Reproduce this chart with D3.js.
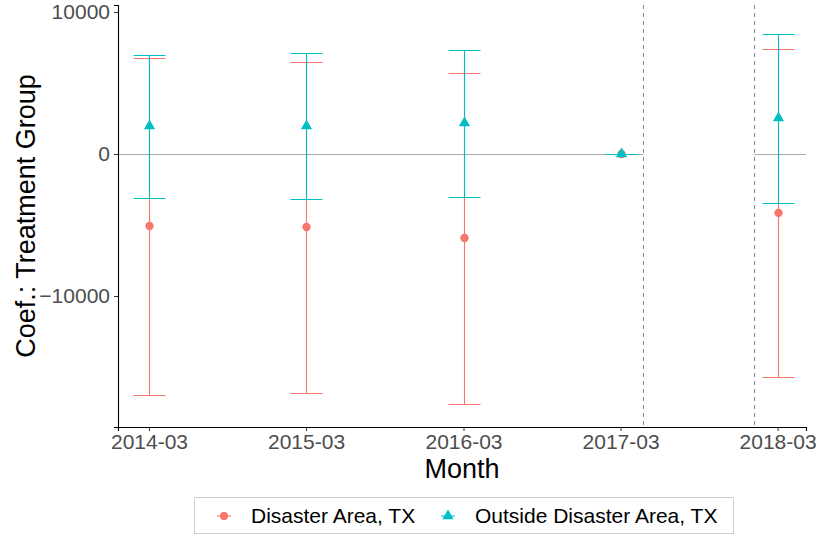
<!DOCTYPE html>
<html>
<head>
<meta charset="utf-8">
<script src="https://cdn.jsdelivr.net/npm/d3@7"></script>
<style>
  body { margin: 0; background: #fff; }
  svg { font-family: "Liberation Sans", Arial, sans-serif; }
</style>
</head>
<body>
<svg id="chart" width="820" height="537"></svg>
<script>
// data
var months = ['2014-03', '2015-03', '2016-03', '2017-03', '2018-03'];
var groups = ['Disaster Area, TX', 'Outside Disaster Area, TX'];
var disasterEst = [-5070, -5140, -5920, 0, -4150];
var disasterLow = [-16970, -16830, -17600, 0, -15700];
var disasterHigh = [6780, 6480, 5700, 0, 7390];
var outsideEst = [1970, 1970, 2180, 0, 2530];
var outsideLow = [-3080, -3170, -3030, 0, -3430];
var outsideHigh = [6970, 7110, 7320, 0, 8450];
var yTicks = [-10000, 0, 10000];
var eventLines = ['2017-04-23', '2018-01-05'];

var colors = ['#F8766D', '#00BFC4'];
var parse = d3.timeParse('%Y-%m');
var parseDay = d3.timeParse('%Y-%m-%d');

var svg = d3.select('#chart');
var margin = {left: 118, right: 14, top: 5, bottom: 110};
var width = 820 - margin.left - margin.right;
var height = 537 - margin.top - margin.bottom;

var g = svg.append('g')
    .attr('transform', 'translate(' + margin.left + ',' + margin.top + ')');

var x = d3.scaleTime()
    .domain([parseDay('2013-12-19'), parseDay('2018-05-06')])
    .range([0, width]);

var y = d3.scaleLinear()
    .domain([-19225, 10490])
    .range([height, 0]);

// snap to pixel centres so overlapping bars stay crisp
function px(v){ return Math.round(v) + 0.5; }

var series = [
    {name: groups[0], est: disasterEst, low: disasterLow, high: disasterHigh, color: colors[0]},
    {name: groups[1], est: outsideEst, low: outsideLow, high: outsideHigh, color: colors[1]}
];

// zero reference line, broken between the dashed event lines
var ev = eventLines.map(function(d){ return px(x(parseDay(d))); });
g.append('line')
    .attr('x1', 0).attr('x2', ev[0])
    .attr('y1', px(y(0))).attr('y2', px(y(0)))
    .attr('stroke', '#ababab').attr('stroke-width', 1);
g.append('line')
    .attr('x1', ev[1]).attr('x2', width)
    .attr('y1', px(y(0))).attr('y2', px(y(0)))
    .attr('stroke', '#ababab').attr('stroke-width', 1);

g.selectAll('.event')
    .data(ev)
    .enter()
    .append('line')
    .attr('class', 'event')
    .attr('x1', function(d){ return d; })
    .attr('x2', function(d){ return d; })
    .attr('y1', 0).attr('y2', height)
    .attr('stroke', '#8a8a8a')
    .attr('stroke-width', 1)
    .attr('stroke-dasharray', '4,4');

var capHalf = 16;

series.forEach(function(s, si){
    var rows = months.map(function(m, i){
        return {date: parse(m), est: s.est[i], low: s.low[i], high: s.high[i]};
    });
    var sg = g.append('g');

    sg.selectAll('.bar')
        .data(rows)
        .enter()
        .append('line')
        .attr('x1', function(d){ return px(x(d.date)); })
        .attr('x2', function(d){ return px(x(d.date)); })
        .attr('y1', function(d){ return y(d.low); })
        .attr('y2', function(d){ return y(d.high); })
        .attr('stroke', s.color).attr('stroke-width', 1.1);

    ['low', 'high'].forEach(function(k){
        sg.selectAll('.cap-' + k)
            .data(rows)
            .enter()
            .append('line')
            .attr('x1', function(d){ return px(x(d.date)) - capHalf; })
            .attr('x2', function(d){ return px(x(d.date)) + capHalf; })
            .attr('y1', function(d){ return px(y(d[k])); })
            .attr('y2', function(d){ return px(y(d[k])); })
            .attr('stroke', s.color).attr('stroke-width', 1.1);
    });

    var sym = d3.symbol().type(si === 0 ? d3.symbolCircle : d3.symbolTriangle)
        .size(55);
    sg.selectAll('.pt')
        .data(rows)
        .enter()
        .append('path')
        .attr('d', sym)
        .attr('transform', function(d){ return 'translate(' + px(x(d.date)) + ',' + y(d.est) + ')'; })
        .attr('fill', s.color);
});

// axes
var xAxis = g.append('g')
    .attr('transform', 'translate(0,' + height + ')')
    .call(d3.axisBottom(x)
        .tickValues(months.map(parse))
        .tickFormat(d3.timeFormat('%Y-%m'))
        .tickSizeOuter(0)
        .tickSize(4)
        .tickPadding(3));

var yAxis = g.append('g')
    .call(d3.axisLeft(y)
        .tickValues(yTicks)
        .tickFormat(d3.format('d'))
        .tickSizeOuter(0)
        .tickSize(4)
        .tickPadding(4));

[xAxis, yAxis].forEach(function(a){
    a.attr('font-size', null).attr('font-family', null);
    a.select('.domain').attr('stroke', '#000').attr('stroke-width', 1.1);
    a.selectAll('.tick line').attr('stroke', '#333');
    a.selectAll('.tick text')
        .attr('fill', '#4d4d4d')
        .style('font-size', '21px');
});

svg.append('text')
    .attr('x', margin.left + width / 2)
    .attr('y', 478)
    .attr('text-anchor', 'middle')
    .style('font-size', '27px')
    .text('Month');

svg.append('text')
    .attr('transform', 'translate(35,' + (margin.top + height / 2) + ') rotate(-90)')
    .attr('text-anchor', 'middle')
    .style('font-size', '27px')
    .text('Coef.: Treatment Group');

// legend
var legend = svg.append('g');
legend.append('rect')
    .attr('x', 194.5).attr('y', 497.5)
    .attr('width', 539).attr('height', 36)
    .attr('fill', '#fff')
    .attr('stroke', '#cfcfcf');

var keyX = [224, 448];
series.forEach(function(s, i){
    var k = legend.append('g').attr('transform', 'translate(' + keyX[i] + ',516)');
    k.append('line')
        .attr('x1', -7).attr('x2', 7)
        .attr('stroke', s.color).attr('stroke-width', 1.1);
    k.append('path')
        .attr('d', d3.symbol().type(i === 0 ? d3.symbolCircle : d3.symbolTriangle).size(55))
        .attr('fill', s.color);
    k.append('text')
        .attr('x', 27)
        .attr('dy', '0.35em')
        .style('font-size', '21px')
        .text(s.name);
});
</script>
</body>
</html>
